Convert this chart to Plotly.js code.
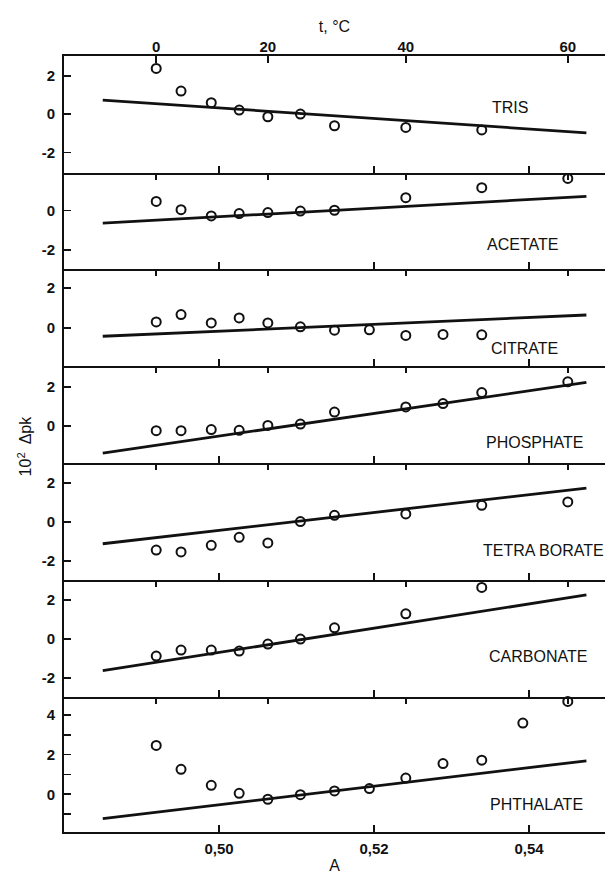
<!DOCTYPE html>
<html>
<head>
<meta charset="utf-8">
<script src="https://cdn.plot.ly/plotly-3.0.1.min.js"></script>
<style>
  html, body { margin: 0; padding: 0; background: #ffffff; }
  #chart { width: 605px; height: 874px; }
</style>
</head>
<body>
<div id="chart"></div>
<script>
// ---- Temperatures (°C) and the A value at which each one is plotted ----
const temps = [0, 5, 10, 15, 20, 25, 30, 35, 40, 45, 50, 55, 60];
const aAtTemp = [0.4919, 0.4951, 0.4990, 0.5026, 0.5063, 0.5105, 0.5149, 0.5194, 0.5241, 0.5289, 0.5339, 0.5392, 0.5450];

// ---- Axis ticks ----
const aTickVals = [0.50, 0.52, 0.54];
const aTickText = ['0,50', '0,52', '0,54'];
const tTickTemps = [0, 20, 40, 60];
const tTickText = ['0', '20', '40', '60'];

// ---- Series: buffer names ----
const names = ['TRIS', 'ACETATE', 'CITRATE', 'PHOSPHATE', 'TETRA BORATE', 'CARBONATE', 'PHTHALATE'];

// ---- Measured points (10² Δpk) ----
const trisT = [0, 5, 10, 15, 20, 25, 30, 40, 50];
const trisV = [2.38, 1.20, 0.59, 0.21, -0.14, 0.00, -0.61, -0.70, -0.83];

const acetateT = [0, 5, 10, 15, 20, 25, 30, 40, 50, 60];
const acetateV = [0.47, 0.05, -0.27, -0.15, -0.10, -0.02, 0.02, 0.66, 1.17, 1.64];

const citrateT = [0, 5, 10, 15, 20, 25, 30, 35, 40, 45, 50];
const citrateV = [0.31, 0.68, 0.26, 0.51, 0.26, 0.07, -0.10, -0.08, -0.36, -0.31, -0.33];

const phosphateT = [0, 5, 10, 15, 20, 25, 30, 40, 45, 50, 60];
const phosphateV = [-0.24, -0.24, -0.18, -0.22, 0.03, 0.10, 0.71, 0.97, 1.14, 1.70, 2.25];

const borateT = [0, 5, 10, 15, 20, 25, 30, 40, 50, 60];
const borateV = [-1.43, -1.53, -1.19, -0.78, -1.07, 0.02, 0.34, 0.41, 0.85, 1.02];

const carbonateT = [0, 5, 10, 15, 20, 25, 30, 40, 50];
const carbonateV = [-0.88, -0.57, -0.57, -0.62, -0.26, 0.00, 0.58, 1.30, 2.66];

const phthalateT = [0, 5, 10, 15, 20, 25, 30, 35, 40, 45, 50, 55, 60];
const phthalateV = [2.46, 1.26, 0.45, 0.05, -0.25, -0.02, 0.17, 0.29, 0.82, 1.55, 1.72, 3.59, 4.68];

// ---- Straight reference lines (end points) ----
const lineA = [0.485, 0.5474];
const trisLine = [0.73, -0.98];
const acetateLine = [-0.64, 0.73];
const citrateLine = [-0.40, 0.655];
const phosphateLine = [-1.38, 2.22];
const borateLine = [-1.11, 1.73];
const carbonateLine = [-1.63, 2.27];
const phthalateLine = [-1.23, 1.69];

// ---- Y tick labels per panel ----
const yTickVals = [
  [-2, 0, 2], [-2, 0, 2], [0, 2], [0, 2], [-2, 0, 2], [-2, 0, 2], [0, 2, 4]
];
const yTickText = [
  ['-2', '0', '2'], ['-2', '0', '2'], ['0', '2'], ['0', '2'], ['-2', '0', '2'], ['-2', '0', '2'], ['0', '2', '4']
];

// ---------------- build figure ----------------
const seriesT = [trisT, acetateT, citrateT, phosphateT, borateT, carbonateT, phthalateT];
const seriesV = [trisV, acetateV, citrateV, phosphateV, borateV, carbonateV, phthalateV];
const seriesLine = [trisLine, acetateLine, citrateLine, phosphateLine, borateLine, carbonateLine, phthalateLine];

const yRanges = [[-3.06, 3.03], [-2.97, 1.93], [-1.90, 2.94], [-1.90, 3.03], [-2.96, 2.99], [-2.97, 3.04], [-1.90, 4.92]];
const domains = [[0.8496, 1.0], [0.7255, 0.8496], [0.5999, 0.7255], [0.4751, 0.5999], [0.3247, 0.4751], [0.1744, 0.3247], [0.0, 0.1744]];
const labelPos = [[0.8244, 0.9330], [0.8484, 0.7565], [0.8503, 0.6237], [0.8706, 0.5013], [0.8854, 0.3634], [0.8762, 0.2262], [0.8725, 0.0354]];

const xRange = [0.4800, 0.5498];
const ink = '#111111';
const tickFont = { family: 'Liberation Sans, Arial, sans-serif', size: 15, color: ink, weight: 700 };
const textFont = { family: 'Liberation Sans, Arial, sans-serif', size: 16, color: ink };

const data = [];
const layout = {
  width: 605, height: 874,
  margin: { l: 64, r: 0, t: 56, b: 42 },
  paper_bgcolor: '#ffffff', plot_bgcolor: '#ffffff',
  showlegend: false,
  annotations: [],
};

const tTickA = tTickTemps.map(t => aAtTemp[temps.indexOf(t)]);

for (let i = 0; i < 7; i++) {
  const n = i + 1;
  const xs = n === 1 ? '' : String(n);
  const xa = 'x' + xs, ya = 'y' + xs;
  const tn = 7 + n;

  data.push({
    type: 'scatter', mode: 'lines', x: lineA, y: seriesLine[i],
    xaxis: xa, yaxis: ya, line: { color: ink, width: 2.8 }, hoverinfo: 'skip'
  });
  data.push({
    type: 'scatter', mode: 'markers', name: names[i],
    x: seriesT[i].map(t => aAtTemp[temps.indexOf(t)]), y: seriesV[i],
    xaxis: xa, yaxis: ya, cliponaxis: false,
    marker: { symbol: 'circle-open', size: 9, color: ink, line: { width: 2, color: ink } }
  });
  // transparent helper so the top temperature axis of this panel is drawn
  data.push({
    type: 'scatter', mode: 'markers', x: tTickA, y: tTickA.map(() => yRanges[i][0]),
    xaxis: 'x' + tn, yaxis: ya, marker: { opacity: 0, size: 1 }, hoverinfo: 'skip'
  });

  layout['xaxis' + xs] = {
    domain: [0, 1], range: xRange, anchor: ya, side: 'bottom',
    showline: true, linecolor: ink, linewidth: 2, mirror: false,
    ticks: 'inside', ticklen: 7, tickwidth: 1.6, tickcolor: ink,
    tickvals: aTickVals, ticktext: aTickText,
    showticklabels: n === 7, tickfont: tickFont, ticklabelstandoff: 2,
    showgrid: false, zeroline: false, automargin: false,
    title: n === 7 ? { text: 'A', font: textFont, standoff: 13 } : undefined
  };
  if (n > 1) layout['xaxis' + xs].matches = 'x';

  layout['xaxis' + tn] = {
    overlaying: xa, anchor: ya, side: 'top', range: xRange,
    showline: n === 1, linecolor: ink, linewidth: 2,
    ticks: 'inside', ticklen: 7, tickwidth: 1.6, tickcolor: ink,
    tickvals: tTickA, ticktext: tTickText,
    showticklabels: n === 1, tickfont: tickFont, ticklabelstandoff: -4,
    showgrid: false, zeroline: false, automargin: false,
    title: n === 1 ? { text: 't, °C', font: textFont, standoff: 1 } : undefined
  };

  layout['yaxis' + xs] = {
    domain: domains[i], range: yRanges[i], anchor: xa,
    showline: true, linecolor: ink, linewidth: 2,
    ticks: 'inside', ticklen: 7, tickwidth: 1.6, tickcolor: ink,
    tickvals: yTickVals[i], ticktext: yTickText[i],
    tickfont: tickFont, ticklabelstandoff: 4,
    showgrid: false, zeroline: false, automargin: false
  };
  if (n === 7) {
    layout['yaxis' + xs].minor = { dtick: 1, tick0: 0, ticks: 'inside', ticklen: 7, tickwidth: 1.6, tickcolor: ink, showgrid: false };
  }

  layout.annotations.push({
    text: names[i], xref: 'paper', yref: 'paper',
    x: labelPos[i][0], y: labelPos[i][1], xanchor: 'center', yanchor: 'middle',
    showarrow: false, font: textFont
  });
}

layout.annotations.push({
  text: '10<sup>2</sup>  \u0394pk', xref: 'paper', yref: 'paper',
  x: -0.072, y: 0.497, xanchor: 'center', yanchor: 'middle', textangle: -90,
  showarrow: false, font: textFont
});

Plotly.newPlot('chart', data, layout, { staticPlot: true, displayModeBar: false });
</script>
</body>
</html>
